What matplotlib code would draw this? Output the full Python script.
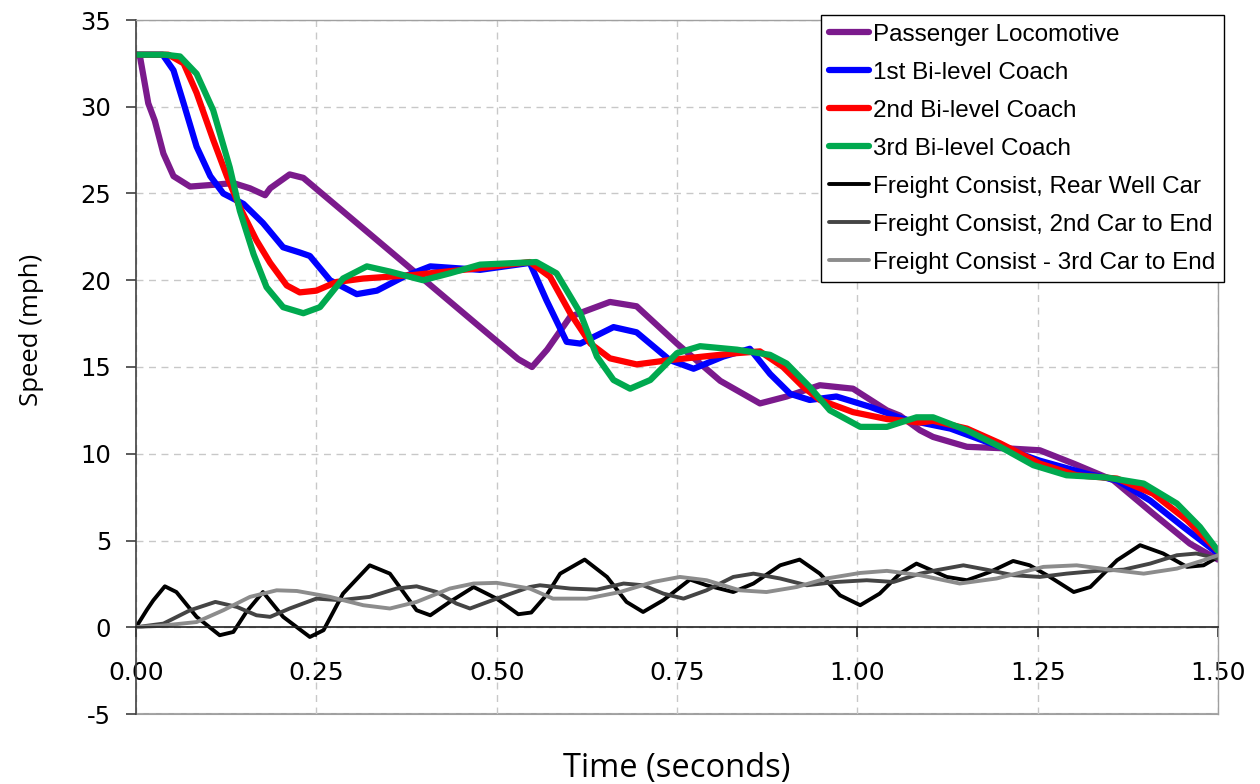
import matplotlib
matplotlib.use("Agg")
from matplotlib import pyplot as plt
from matplotlib.ticker import MultipleLocator

plt.rcParams["font.family"] = ["DejaVu Sans"]

# values (time in s, speed in mph)
loco_t = [0, 0.0055, 0.017, 0.026, 0.038, 0.052, 0.075, 0.107, 0.135, 0.158, 0.179, 0.186,
          0.213, 0.232, 0.477, 0.53, 0.549, 0.57, 0.602, 0.657, 0.694, 0.75, 0.81, 0.865,
          0.902, 0.948, 0.994, 1.041, 1.059, 1.087, 1.105, 1.152, 1.212, 1.253, 1.30, 1.355,
          1.41, 1.461, 1.5]
loco_v = [33, 32.9, 30.2, 29.2, 27.3, 26.0, 25.4, 25.5, 25.6, 25.3, 24.9, 25.3,
          26.1, 25.9, 17.3, 15.45, 15.0, 16.0, 17.9, 18.75, 18.5, 16.35, 14.2, 12.9,
          13.3, 13.95, 13.75, 12.5, 12.2, 11.35, 10.97, 10.4, 10.3, 10.2, 9.43, 8.47,
          6.55, 4.82, 3.9]

coach1_t = [0, 0.037, 0.052, 0.066, 0.084, 0.103, 0.121, 0.149, 0.176, 0.204, 0.227, 0.241,
            0.269, 0.306, 0.334, 0.371, 0.408, 0.477, 0.546, 0.569, 0.597, 0.616, 0.662,
            0.694, 0.74, 0.773, 0.814, 0.851, 0.879, 0.907, 0.934, 0.971, 1.018, 1.064,
            1.129, 1.198, 1.253, 1.318, 1.36, 1.406, 1.452, 1.5]
coach1_v = [33, 33, 32.1, 30.2, 27.7, 26.0, 25.0, 24.4, 23.3, 21.9, 21.6, 21.4,
            20.0, 19.2, 19.4, 20.2, 20.8, 20.6, 21.0, 18.85, 16.45, 16.35, 17.3,
            17.0, 15.4, 14.9, 15.6, 16.05, 14.6, 13.45, 13.1, 13.3, 12.7, 12.0,
            11.45, 10.4, 9.6, 8.85, 8.47, 7.3, 5.78, 4.25]

coach2_t = [0, 0.045, 0.066, 0.084, 0.107, 0.126, 0.144, 0.167, 0.186, 0.209, 0.227, 0.25,
            0.278, 0.315, 0.384, 0.477, 0.546, 0.574, 0.602, 0.63, 0.657, 0.694, 0.74,
            0.786, 0.833, 0.865, 0.897, 0.925, 0.948, 0.994, 1.041, 1.087, 1.105, 1.152,
            1.198, 1.253, 1.304, 1.36, 1.41, 1.457, 1.5]
coach2_v = [33, 33, 32.5, 30.8, 28.1, 26.0, 24.2, 22.3, 21.0, 19.7, 19.3, 19.4,
            19.9, 20.1, 20.3, 20.7, 21.05, 20.2, 18.1, 16.35, 15.5, 15.15, 15.4,
            15.6, 15.8, 15.9, 15.0, 13.85, 13.1, 12.4, 12.0, 11.8, 11.9, 11.45,
            10.6, 9.43, 8.76, 8.57, 7.7, 6.17, 4.4]

coach3_t = [0, 0.04, 0.061, 0.084, 0.107, 0.13, 0.144, 0.163, 0.181, 0.204, 0.232, 0.255,
            0.287, 0.32, 0.352, 0.398, 0.435, 0.477, 0.555, 0.583, 0.616, 0.639, 0.662,
            0.685, 0.713, 0.75, 0.782, 0.833, 0.879, 0.902, 0.934, 0.962, 1.004, 1.041,
            1.082, 1.105, 1.152, 1.198, 1.244, 1.29, 1.346, 1.397, 1.443, 1.475, 1.5]
coach3_v = [33, 33, 32.9, 31.9, 29.8, 26.5, 24.0, 21.5, 19.6, 18.45, 18.1, 18.45,
            20.1, 20.8, 20.5, 20.0, 20.4, 20.9, 21.05, 20.4, 18.1, 15.6, 14.25,
            13.75, 14.25, 15.8, 16.2, 16.0, 15.7, 15.2, 13.85, 12.5, 11.55, 11.55,
            12.1, 12.1, 11.35, 10.4, 9.34, 8.76, 8.63, 8.28, 7.13, 5.78, 4.4]

rear_t = [0, 0.015, 0.024, 0.040, 0.056, 0.084, 0.116, 0.135, 0.153, 0.176, 0.204, 0.241,
          0.26, 0.287, 0.324, 0.352, 0.389, 0.408, 0.435, 0.468, 0.5, 0.53, 0.548, 0.57,
          0.588, 0.622, 0.653, 0.68, 0.703, 0.731, 0.768, 0.791, 0.828, 0.856, 0.893,
          0.92, 0.948, 0.976, 1.004, 1.031, 1.059, 1.082, 1.124, 1.152, 1.184, 1.216,
          1.239, 1.267, 1.3, 1.323, 1.36, 1.392, 1.424, 1.457, 1.48, 1.5]
rear_v = [0, 1.0, 1.55, 2.36, 2.03, 0.6, -0.46, -0.27, 0.88, 2.03, 0.6, -0.56,
          -0.17, 1.94, 3.57, 3.09, 0.98, 0.69, 1.46, 2.32, 1.65, 0.75, 0.85, 1.9,
          3.09, 3.9, 2.9, 1.46, 0.88, 1.56, 2.75, 2.42, 2.03, 2.52, 3.57,
          3.9, 3.09, 1.84, 1.27, 1.94, 3.09, 3.67, 2.9, 2.71, 3.19, 3.82,
          3.57, 2.9, 2.03, 2.32, 3.86, 4.73, 4.25, 3.48, 3.57, 4.05]

second_t = [0, 0.038, 0.075, 0.11, 0.14, 0.167, 0.186, 0.213, 0.25, 0.283, 0.324, 0.361,
            0.389, 0.417, 0.444, 0.463, 0.5, 0.546, 0.56, 0.602, 0.639, 0.676, 0.703,
            0.731, 0.759, 0.791, 0.828, 0.856, 0.893, 0.93, 0.971, 1.013, 1.05, 1.087,
            1.11, 1.147, 1.179, 1.216, 1.253, 1.29, 1.332, 1.369, 1.406, 1.443, 1.47, 1.5]
second_v = [0, 0.21, 0.98, 1.46, 1.17, 0.69, 0.6, 1.08, 1.65, 1.56, 1.75, 2.23,
            2.36, 2.03, 1.37, 1.08, 1.65, 2.32, 2.42, 2.23, 2.17, 2.52, 2.42,
            1.94, 1.65, 2.13, 2.9, 3.09, 2.81, 2.42, 2.61, 2.71, 2.61, 3.09,
            3.29, 3.57, 3.32, 3.0, 2.9, 3.09, 3.25, 3.32, 3.67, 4.15, 4.25, 3.96]

third_t = [0, 0.038, 0.084, 0.121, 0.158, 0.195, 0.223, 0.269, 0.315, 0.352, 0.389, 0.435,
           0.468, 0.5, 0.546, 0.578, 0.625, 0.671, 0.717, 0.754, 0.791, 0.837, 0.874,
           0.916, 0.957, 1.004, 1.041, 1.087, 1.142, 1.193, 1.258, 1.304, 1.35, 1.397,
           1.443, 1.48, 1.5]
third_v = [0, 0.1, 0.3, 0.98, 1.75, 2.13, 2.09, 1.75, 1.27, 1.08, 1.46, 2.23,
           2.52, 2.56, 2.23, 1.65, 1.65, 2.03, 2.61, 2.9, 2.71, 2.13, 2.03,
           2.32, 2.81, 3.13, 3.25, 3.0, 2.52, 2.81, 3.48, 3.57, 3.32, 3.09,
           3.38, 3.86, 4.15]

series = [
    ("Passenger Locomotive", loco_t, loco_v, "#7B1A8C", 4.5),
    ("1st Bi-level Coach", coach1_t, coach1_v, "#0000FF", 4.5),
    ("2nd Bi-level Coach", coach2_t, coach2_v, "#FF0000", 4.5),
    ("3rd Bi-level Coach", coach3_t, coach3_v, "#00A94F", 4.5),
    ("Freight Consist, Rear Well Car", rear_t, rear_v, "#000000", 2.8),
    ("Freight Consist, 2nd Car to End", second_t, second_v, "#444444", 2.8),
    ("Freight Consist - 3rd Car to End", third_t, third_v, "#8C8C8C", 2.8),
]

fig = plt.figure(figsize=(12.6, 7.84), dpi=100)
ax = fig.add_axes([136 / 1260, 1 - 714 / 784, 1082 / 1260, 694 / 784])

for label, t, v, color, lw in series:
    ax.plot(t, v, color=color, lw=lw, label=label, solid_joinstyle="round",
            solid_capstyle="round")

ax.set_xlim(0, 1.5)
ax.set_ylim(-5, 35)
ax.xaxis.set_major_locator(MultipleLocator(0.25))
ax.yaxis.set_major_locator(MultipleLocator(5))
ax.xaxis.set_major_formatter(lambda x, pos: f"{x:.2f}")
ax.yaxis.set_major_formatter(lambda y, pos: f"{y:.0f}")

ax.grid(True, color="#C8C8C8", linestyle=(0, (5, 4)), lw=1.0)
ax.set_axisbelow(True)

# frame: grey border, dark left axis, zero line carries the x ticks
for side in ("top", "right"):
    ax.spines[side].set_color("#A0A0A0")
    ax.spines[side].set_linewidth(1.0)
ax.spines["left"].set_color("#404040")
ax.spines["left"].set_linewidth(1.2)
ax.spines["bottom"].set_position(("data", 0))
ax.spines["bottom"].set_color("#202020")
ax.spines["bottom"].set_linewidth(1.2)
ax.axhline(-5, color="#A0A0A0", lw=1.5, clip_on=False, zorder=0.5)

ax.tick_params(axis="y", direction="out", length=7, width=1.2, color="#404040",
               pad=11, labelsize=17.5)
ax.tick_params(axis="x", direction="out", length=7, width=1.2, color="#202020",
               pad=17, labelsize=18)

fig.text(32 / 1260, 1 - 330 / 784, "Speed (mph)", rotation=90, ha="center",
         va="center", fontsize=18.5, family="Open Sans")
fig.text(677 / 1260, 1 - 768 / 784, "Time (seconds)", ha="center", va="center",
         fontsize=23.5, family="Open Sans")

leg = ax.legend(loc="upper right", bbox_to_anchor=(1224 / 1260, 1 - 15 / 784),
                bbox_transform=fig.transFigure, borderaxespad=0, fancybox=False,
                framealpha=1, edgecolor="black", handlelength=1.65, handletextpad=0.17,
                labelspacing=0.66, borderpad=0.35,
                prop={"family": "Liberation Sans", "size": 17.5})
leg.get_frame().set_linewidth(1.0)

fig.savefig("out.png", dpi=100)
